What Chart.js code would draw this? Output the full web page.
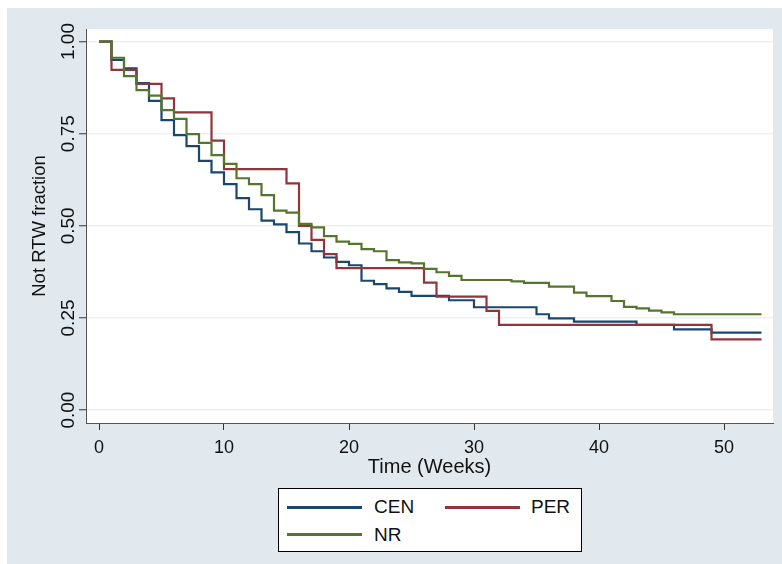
<!DOCTYPE html>
<html>
<head>
<meta charset="utf-8">
<title>Not RTW fraction</title>
<script src="https://cdn.jsdelivr.net/npm/chart.js@4.4.1/dist/chart.umd.min.js"></script>
<style>
  html, body { margin: 0; padding: 0; background: #ffffff; }
  #wrap { position: relative; width: 782px; height: 564px; }
  #legend {
    position: absolute; left: 278px; top: 488px; width: 304px; height: 64px;
    box-sizing: border-box; background: #ffffff; border: 1px solid #000000;
    font-family: "Liberation Sans", Arial, sans-serif; font-size: 19px; color: #111111;
  }
  .swatch { position: absolute; width: 75px; height: 3px; }
  .lbl { position: absolute; line-height: 24px; height: 24px; white-space: nowrap; }
</style>
</head>
<body>
<div id="wrap">
  <canvas id="chart" width="782" height="564"></canvas>
  <div id="legend"></div>
</div>
<script>
// series (Kaplan-Meier style steps, week -> fraction)
const seriesNames = ['CEN', 'PER', 'NR'];
const seriesColors = ['#1a476f', '#90353b', '#55752f'];

const cenWeeks  = [0, 1, 2, 3, 4, 5, 6, 7, 8, 9, 10, 11, 12, 13, 14, 15, 16, 17, 18, 19, 20, 21, 22, 23, 24, 25, 28, 30, 35, 36, 38, 43, 46, 49, 53];
const cenValues = [1.0, 0.950, 0.927, 0.887, 0.839, 0.787, 0.746, 0.716, 0.676, 0.645, 0.613, 0.575, 0.545, 0.514, 0.504, 0.483, 0.452, 0.431, 0.414, 0.402, 0.393, 0.351, 0.342, 0.330, 0.321, 0.310, 0.298, 0.279, 0.260, 0.249, 0.240, 0.231, 0.219, 0.210, 0.210];

const perWeeks  = [0, 1, 3, 5, 6, 9, 10, 15, 16, 17, 18, 19, 26, 27, 31, 32, 49, 53];
const perValues = [1.0, 0.923, 0.885, 0.846, 0.808, 0.731, 0.654, 0.615, 0.500, 0.462, 0.423, 0.385, 0.346, 0.308, 0.269, 0.231, 0.192, 0.192];

const nrWeeks  = [0, 1, 2, 3, 4, 5, 6, 7, 8, 9, 10, 11, 12, 13, 14, 15, 16, 17, 18, 19, 20, 21, 22, 23, 24, 25, 26, 27, 28, 29, 33, 34, 36, 38, 39, 41, 42, 43, 44, 45, 46, 53];
const nrValues = [1.0, 0.956, 0.906, 0.868, 0.853, 0.814, 0.790, 0.749, 0.725, 0.692, 0.668, 0.629, 0.613, 0.583, 0.541, 0.536, 0.505, 0.496, 0.472, 0.457, 0.451, 0.437, 0.431, 0.407, 0.401, 0.398, 0.383, 0.374, 0.364, 0.353, 0.349, 0.345, 0.335, 0.319, 0.309, 0.296, 0.280, 0.276, 0.270, 0.265, 0.260, 0.260];

const xTicks = [0, 10, 20, 30, 40, 50];
const yTicks = [0, 0.25, 0.5, 0.75, 1];
const yTickLabels = ['0.00', '0.25', '0.50', '0.75', '1.00'];

const xTitle = 'Time (Weeks)';
const yTitle = 'Not RTW fraction';

const FONT = '"Liberation Sans", Arial, sans-serif';
const INK = '#111111';

function toPoints(weeks, values) {
  return weeks.map((w, i) => ({ x: w, y: values[i] }));
}

const allWeeks = [cenWeeks, perWeeks, nrWeeks];
const allValues = [cenValues, perValues, nrValues];

const datasets = seriesNames.map((name, i) => ({
  label: name,
  data: toPoints(allWeeks[i], allValues[i]),
  borderColor: seriesColors[i],
  backgroundColor: seriesColors[i],
  borderWidth: 2.2,
  pointRadius: 0,
  stepped: 'before',
  fill: false,
  order: seriesNames.length - i   // NR ends up on top
}));

// grey graph region + white plot region, like the Stata s2color scheme
const backdrop = {
  id: 'backdrop',
  beforeDraw(chart) {
    const { ctx, chartArea: a } = chart;
    ctx.save();
    ctx.fillStyle = '#ffffff';
    ctx.fillRect(0, 0, chart.width, chart.height);
    ctx.fillStyle = '#e1e9ef';
    ctx.fillRect(7, 8, chart.width - 7, chart.height - 8);
    ctx.fillStyle = '#ffffff';
    ctx.fillRect(a.left, a.top, a.right - a.left, a.bottom - a.top);
    ctx.restore();
  }
};

new Chart(document.getElementById('chart'), {
  type: 'line',
  data: { datasets: datasets },
  plugins: [backdrop],
  options: {
    responsive: false,
    animation: false,
    layout: { padding: { left: 7, top: 29, right: 9, bottom: 79 } },
    plugins: {
      legend: { display: false },
      tooltip: { enabled: false }
    },
    scales: {
      x: {
        type: 'linear',
        min: -1.04,
        max: 53.92,
        afterBuildTicks: (scale) => { scale.ticks = xTicks.map(v => ({ value: v })); },
        afterFit: (scale) => { scale.height = 62; },
        ticks: {
          autoSkip: false, maxRotation: 0, minRotation: 0,
          padding: 7, color: INK,
          font: { family: FONT, size: 18 },
          callback: (v) => String(v)
        },
        grid: {
          drawOnChartArea: false, drawTicks: true,
          tickLength: 7, tickColor: '#333333', tickWidth: 1
        },
        border: { display: true, color: '#555555', width: 1 },
        title: {
          display: true, text: xTitle, color: INK,
          font: { family: FONT, size: 20 },
          padding: { top: 0, bottom: 5.5 }
        }
      },
      y: {
        type: 'linear',
        min: -0.035,
        max: 1.034,
        afterBuildTicks: (scale) => { scale.ticks = yTicks.map(v => ({ value: v })); },
        afterFit: (scale) => { scale.width = 79; },
        ticks: {
          autoSkip: false, minRotation: 90, maxRotation: 90,
          crossAlign: 'center', padding: -8.5, color: INK,
          font: { family: FONT, size: 19 },
          callback: (v, i) => yTickLabels[i]
        },
        grid: {
          drawOnChartArea: true, drawTicks: true,
          color: '#ebf1f3', lineWidth: 1.5,
          tickLength: 7, tickColor: '#333333', tickWidth: 1
        },
        border: { display: true, color: '#555555', width: 1 },
        title: {
          display: true, text: yTitle, color: INK,
          font: { family: FONT, size: 18.5 },
          padding: { top: 21.4, bottom: 0 }
        }
      }
    }
  }
});

// legend box, two columns like the reference
const legendSlots = [
  { sx: 8, tx: 96, cy: 19 },
  { sx: 166, tx: 253, cy: 19 },
  { sx: 8, tx: 96, cy: 46.5 }
];
const legendEl = document.getElementById('legend');
seriesNames.forEach((name, i) => {
  const slot = legendSlots[i];
  const sw = document.createElement('div');
  sw.className = 'swatch';
  sw.style.left = slot.sx + 'px';
  sw.style.top = (slot.cy - 1.5 - 1) + 'px';
  sw.style.background = seriesColors[i];
  legendEl.appendChild(sw);
  const tx = document.createElement('div');
  tx.className = 'lbl';
  tx.style.left = (slot.tx - 1) + 'px';
  tx.style.top = (slot.cy - 12 - 1) + 'px';
  tx.textContent = name;
  legendEl.appendChild(tx);
});
</script>
</body>
</html>
